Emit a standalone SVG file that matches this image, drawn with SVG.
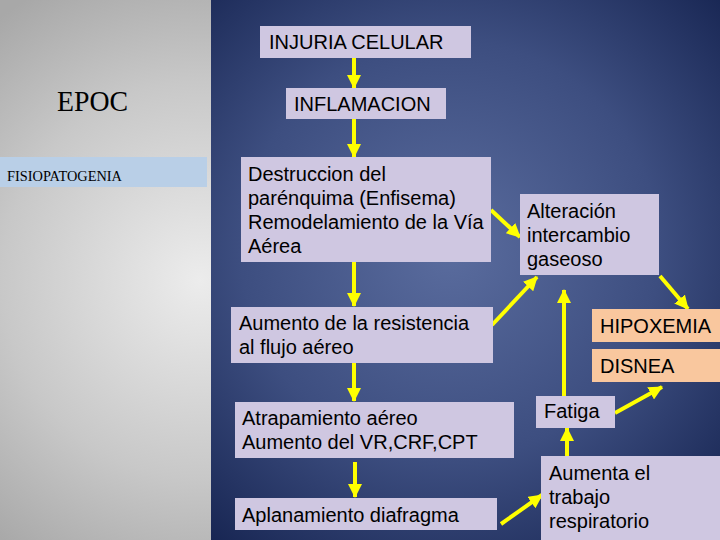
<svg xmlns="http://www.w3.org/2000/svg" width="720" height="540" viewBox="0 0 720 540">
<defs>
<radialGradient id="gray" cx="200" cy="280" r="330" gradientUnits="userSpaceOnUse">
<stop offset="0" stop-color="#ececec"/>
<stop offset="0.6" stop-color="#c8c8c8"/>
<stop offset="1" stop-color="#a8a8a8"/>
</radialGradient>
<radialGradient id="blue" cx="450" cy="250" r="380" gradientUnits="userSpaceOnUse">
<stop offset="0" stop-color="#5a6c9e"/>
<stop offset="0.55" stop-color="#3d4e80"/>
<stop offset="1" stop-color="#172552"/>
</radialGradient>
<marker id="ah" markerUnits="userSpaceOnUse" markerWidth="14" markerHeight="14" refX="13" refY="7" orient="auto">
<path d="M0,0 L14,7 L0,14 z" fill="#ffff00"/>
</marker>
<style>
.box{fill:#cfc7e1}
.org{fill:#f9c79e}
.t{font-family:"Liberation Sans",Arial,sans-serif;font-size:20px;fill:#000}
.c line{stroke:#ffff00;stroke-width:4}
</style>
</defs>
<rect x="0" y="0" width="211" height="540" fill="url(#gray)"/>
<rect x="211" y="0" width="509" height="540" fill="url(#blue)"/>
<g id="title">
<text x="57" y="111" font-family="Liberation Serif,serif" font-size="29" textLength="71" lengthAdjust="spacingAndGlyphs" fill="#000">EPOC</text>
</g>
<g id="fisiopatogenia">
<rect x="0" y="157" width="207" height="30" fill="#b9cfe7"/>
<text x="7" y="181" font-family="Liberation Serif,serif" font-size="14" textLength="115" lengthAdjust="spacingAndGlyphs" fill="#000">FISIOPATOGENIA</text>
</g>
<g class="c" id="connectors">
<line x1="354" y1="58" x2="354" y2="88" marker-end="url(#ah)"/>
<line x1="354" y1="119" x2="354" y2="157" marker-end="url(#ah)"/>
<line x1="354" y1="262" x2="354" y2="306" marker-end="url(#ah)"/>
<line x1="354" y1="363" x2="354" y2="401" marker-end="url(#ah)"/>
<line x1="355" y1="462" x2="355" y2="497" marker-end="url(#ah)"/>
<line x1="491" y1="210" x2="520" y2="237" marker-end="url(#ah)"/>
<line x1="660" y1="276" x2="688" y2="309" marker-end="url(#ah)"/>
<line x1="492" y1="325" x2="537" y2="277" marker-end="url(#ah)"/>
<line x1="564" y1="396" x2="564" y2="290" marker-end="url(#ah)"/>
<line x1="615" y1="413" x2="662" y2="387" marker-end="url(#ah)"/>
<line x1="567" y1="456" x2="567" y2="428" marker-end="url(#ah)"/>
<line x1="501" y1="524" x2="542" y2="495" marker-end="url(#ah)"/>
</g>
<g id="injuria"><rect class="box" x="260" y="26" width="211" height="32"/><text class="t" x="269" y="49">INJURIA CELULAR</text></g>
<g id="inflamacion"><rect class="box" x="286" y="88" width="160" height="31"/><text class="t" x="294" y="111">INFLAMACION</text></g>
<g id="destruccion"><rect class="box" x="241" y="157" width="250" height="105"/>
<text class="t" x="248" y="181">Destruccion del</text>
<text class="t" x="248" y="205">parénquima (Enfisema)</text>
<text class="t" x="248" y="229">Remodelamiento de la Vía</text>
<text class="t" x="248" y="253">Aérea</text></g>
<g id="alteracion"><rect class="box" x="520" y="194" width="139" height="81"/>
<text class="t" x="527" y="218">Alteración</text>
<text class="t" x="527" y="242">intercambio</text>
<text class="t" x="527" y="266">gaseoso</text></g>
<g id="resistencia"><rect class="box" x="231" y="307" width="262" height="56"/>
<text class="t" x="239" y="330">Aumento de la resistencia</text>
<text class="t" x="239" y="354">al flujo aéreo</text></g>
<g id="atrapamiento"><rect class="box" x="235" y="402" width="279" height="56"/>
<text class="t" x="242" y="425">Atrapamiento aéreo</text>
<text class="t" x="242" y="449">Aumento del VR,CRF,CPT</text></g>
<g id="aplanamiento"><rect class="box" x="235" y="498" width="262" height="32"/>
<text class="t" x="242" y="522">Aplanamiento diafragma</text></g>
<g id="hipoxemia"><rect class="org" x="592" y="309" width="128" height="33"/><text class="t" x="600" y="333">HIPOXEMIA</text></g>
<g id="disnea"><rect class="org" x="592" y="349" width="128" height="33"/><text class="t" x="600" y="373">DISNEA</text></g>
<g id="fatiga"><rect class="box" x="536" y="396" width="79" height="32"/><text class="t" x="544" y="418">Fatiga</text></g>
<g id="trabajo"><rect class="box" x="541" y="456" width="179" height="84"/>
<text class="t" x="549" y="480">Aumenta el</text>
<text class="t" x="549" y="504">trabajo</text>
<text class="t" x="549" y="528">respiratorio</text></g>
</svg>
